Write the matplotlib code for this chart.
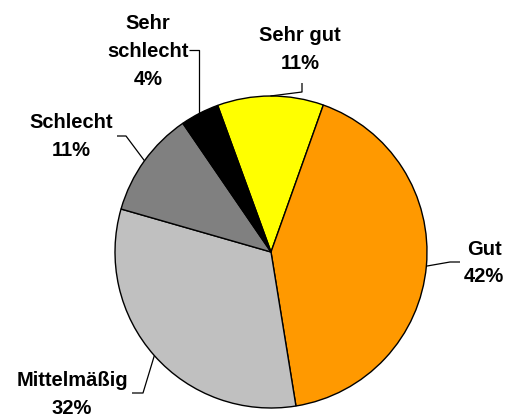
import numpy as np
import matplotlib
matplotlib.use("Agg")
import matplotlib.pyplot as plt

plt.rcParams["font.family"] = ["Liberation Sans", "DejaVu Sans"]

# survey answers, clockwise from the top
categories = ["Sehr gut", "Gut", "Mittelmäßig", "Schlecht", "Sehr schlecht"]
shares = [11, 42, 32, 11, 4]
colors = ["#FFFF00", "#FF9900", "#C0C0C0", "#808080", "#000000"]

W, H = 507, 417
center = (271, H - 252)
radius = 156

# label box centres and the elbow of each leader line (pixel coords, y down)
label_pos = [(300, 49), (484, 263), (72, 394), (71, 136), (148, 51)]
elbows = [
    [(302, 83), (302, 92)],
    [(460, 262), (450, 262)],
    [(132, 393), (143, 393)],
    [(117, 136), (126, 136)],
    [(189, 50), (199, 50)],
]

fig = plt.figure(figsize=(W / 100, H / 100), dpi=100)
ax = fig.add_axes([0, 0, 1, 1])

wedges, _ = ax.pie(
    shares, colors=colors, startangle=110, counterclock=False,
    center=center, radius=radius,
    wedgeprops=dict(edgecolor="black", linewidth=1.0),
)

for w, name, val, (lx, ly), elb in zip(wedges, categories, shares, label_pos, elbows):
    mid = np.deg2rad((w.theta1 + w.theta2) / 2)
    ex = center[0] + radius * np.cos(mid)
    ey = center[1] + radius * np.sin(mid)
    xs = [p[0] for p in elb] + [ex]
    ys = [H - p[1] for p in elb] + [ey]
    if name == "Sehr schlecht":
        xs[-1] = elb[-1][0]
    ax.plot(xs, ys, color="black", lw=0.9, solid_capstyle="butt")
    label = name.replace(" ", "\n") if name == "Sehr schlecht" else name
    ax.text(lx, H - ly, f"{label}\n{val}%", ha="center", va="center",
            fontsize=14.5, fontweight="bold", linespacing=1.6)

ax.set_xlim(0, W)
ax.set_ylim(0, H)
ax.set_aspect("equal")
ax.axis("off")

fig.savefig("out.png", dpi=100)
